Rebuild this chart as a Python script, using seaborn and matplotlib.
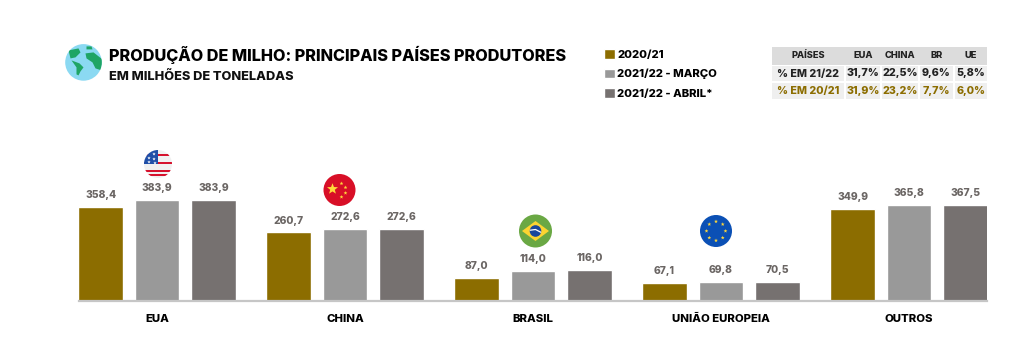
import numpy as np
import pandas as pd
import matplotlib
matplotlib.use("Agg")
import matplotlib.pyplot as plt
import seaborn as sns
from matplotlib.patches import Circle, Polygon, Rectangle

# chart data
paises = ["EUA", "CHINA", "BRASIL", "UNIÃO EUROPEIA", "OUTROS"]
safras = ["2020/21", "2021/22 - MARÇO", "2021/22 - ABRIL*"]
safra_2021 = [358.4, 260.7, 87.0, 67.1, 349.9]
marco_2122 = [383.9, 272.6, 114.0, 69.8, 365.8]
abril_2122 = [383.9, 272.6, 116.0, 70.5, 367.5]
cores = ["#8c6d00", "#999999", "#767170"]

# side table
tab_header = ["PAÍSES", "EUA", "CHINA", "BR", "UE"]
tab_2122 = ["% EM 21/22", "31,7%", "22,5%", "9,6%", "5,8%"]
tab_2021 = ["% EM 20/21", "31,9%", "23,2%", "7,7%", "6,0%"]

W, H = 1019, 364
sns.set_theme(style="white")
plt.rcParams["font.family"] = ["Inter", "DejaVu Sans"]

df = pd.DataFrame({
    "pais": paises * 3,
    "safra": [s for s in safras for _ in paises],
    "valor": safra_2021 + marco_2122 + abril_2122,
})

fig = plt.figure(figsize=(W / 100, H / 100), dpi=100, facecolor="white")

# main axes, placed to the pixel
ax_left, ax_right, ax_top, ax_bottom = 79, 987, 120, 300.5
ax = fig.add_axes([ax_left / W, 1 - ax_bottom / H, (ax_right - ax_left) / W, (ax_bottom - ax_top) / H])
sns.barplot(data=df, x="pais", y="valor", hue="safra", palette=cores, saturation=1,
            width=0.9, gap=0.21, ax=ax, legend=True)
ax.set_xlim(-0.415, 4.415)
ax.set_ylim(0, (ax_bottom - ax_top) / 0.2610)
ax.set_xlabel("")
ax.set_ylabel("")
ax.set_yticks([])
sns.despine(ax=ax, left=True)
ax.spines["bottom"].set_color("#c6c6c6")
ax.spines["bottom"].set_linewidth(1.6)
ax.tick_params(axis="x", length=0, pad=9.6)
for t in ax.get_xticklabels():
    t.set_fontsize(8.2)
    t.set_fontweight(800)
    t.set_color("black")

for c in ax.containers:
    ax.bar_label(c, fmt=lambda v: f"{v:.1f}".replace(".", ","), padding=5,
                 fontsize=7.4, fontweight=800, color="#6b6664")

# legend goes in the header
handles, labels = ax.get_legend_handles_labels()
ax.legend_.remove()
fig.legend(handles, labels, loc="upper left", bbox_to_anchor=(594 / W, 1 - 39 / H), frameon=False,
           prop={"size": 8.1, "weight": 800}, handlelength=0.95, handleheight=0.95,
           handletextpad=0.2, labelspacing=0.77, labelcolor="black")

# overlay in pixel coordinates for title, table and icons
ov = fig.add_axes([0, 0, 1, 1], zorder=5)
ov.set_xlim(0, W)
ov.set_ylim(H, 0)
ov.axis("off")
ov.patch.set_alpha(0)

ov.text(109, 55, "PRODUÇÃO DE MILHO: PRINCIPAIS PAÍSES PRODUTORES", fontsize=11.7, fontweight=800,
        color="black", va="center", ha="left")
ov.text(109, 77, "EM MILHÕES DE TONELADAS", fontsize=9.2, fontweight=800, color="#111111",
        va="center", ha="left")


def draw_table():
    cols = [(772, 844), (846, 880), (882, 918), (920, 953), (955, 987)]
    ov.add_patch(Rectangle((772, 46.5), 215, 18, color="#dcdcdc", lw=0))
    rows = [(tab_header, 46.5, 64.5, "#222222", None, 6.7),
            (tab_2122, 66, 81, "#222222", "#efefef", 7.7),
            (tab_2021, 83, 98.5, "#8c6d00", "#efefef", 7.7)]
    for vals, y0, y1, col, bg, fs in rows:
        for (x0, x1), v in zip(cols, vals):
            if bg:
                ov.add_patch(Rectangle((x0, y0), x1 - x0, y1 - y0, color=bg, lw=0))
            ov.text((x0 + x1) / 2, (y0 + y1) / 2, v, fontsize=fs, fontweight=800, color=col,
                    ha="center", va="center")


def disc(cx, cy, r, color):
    c = Circle((cx, cy), r, color=color, lw=0)
    ov.add_patch(c)
    return c


def star(cx, cy, r, color, angle=0):
    # five points drawn as a real star, not a pentagon
    a = np.pi / 2 + angle + np.arange(10) * np.pi / 5
    rad = np.where(np.arange(10) % 2 == 0, r, r * 0.42)
    ov.add_patch(Polygon(np.c_[cx + rad * np.cos(a), cy - rad * np.sin(a)], color=color, lw=0))


def draw_globe(cx, cy, r):
    base = disc(cx, cy, r, "#8bd9f2")
    shapes = [
        [(-15, -12), (-5, -14), (-3, -10), (-8, -5), (-13, -4)],
        [(-12, -2), (-4, 1), (0, 5), (-3, 9), (-5, 13), (-7, 12), (-7, 5)],
        [(3, -16), (8, -16), (9, -13), (3, -13)],
        [(2, -9), (10, -10), (19, -3), (18, 8), (12, 6), (9, 0), (3, -4)],
    ]
    for s in shapes:
        p = Polygon([(cx + a, cy + b) for a, b in s], color="#1fa565", lw=0)
        ov.add_patch(p)
        p.set_clip_path(base)


def draw_usa(cx, cy, r):
    base = disc(cx, cy, r, "#f0f0f0")
    for i in range(7):
        y = cy - r + i * 2 * r / 7
        if i % 2 == 1 or i == 6:
            b = Rectangle((cx - r, y), 2 * r, r / 7 * 1.1, color="#d6122d", lw=0)
            ov.add_patch(b)
            b.set_clip_path(base)
    b = Rectangle((cx - r, cy - r), r, r, color="#1f4fa8", lw=0)
    ov.add_patch(b)
    b.set_clip_path(base)
    for dx, dy in [(-9, -6), (-4, -10), (-4, -5), (-9, -2), (-3, -1)]:
        star(cx + dx, cy + dy, 1.7, "white")


def draw_china(cx, cy, r):
    disc(cx, cy, r, "#d80f27")
    star(cx - 7, cy - 1, 5.8, "#ffd83a")
    for dx, dy in [(2, -6.5), (6, -2.5), (6, 3), (2, 7)]:
        star(cx + dx, cy + dy, 2, "#ffd83a")


def draw_brasil(cx, cy, r):
    disc(cx, cy, r, "#6aa844")
    ov.add_patch(Polygon([(cx - 13.5, cy), (cx, cy - 10), (cx + 13.5, cy), (cx, cy + 10)], color="#fbd431", lw=0))
    disc(cx, cy, 5.8, "#18479b")
    ov.plot([cx - 5.2, cx, cx + 5.2], [cy - 0.8, cy - 1.5, cy + 1.2], color="white", lw=0.9)


def draw_ue(cx, cy, r):
    disc(cx, cy, r, "#0b50b5")
    for a in np.deg2rad(np.arange(0, 360, 45)):
        star(cx + 9.5 * np.cos(a), cy + 9.5 * np.sin(a), 2, "#ffd83a")


draw_table()
draw_globe(83.5, 62.4, 18.3)
draw_usa(158, 164, 14)
draw_china(339.5, 190, 16)
draw_brasil(535.5, 231, 16.5)
draw_ue(716, 231, 16)

fig.savefig("out.png", dpi=100, facecolor="white")
